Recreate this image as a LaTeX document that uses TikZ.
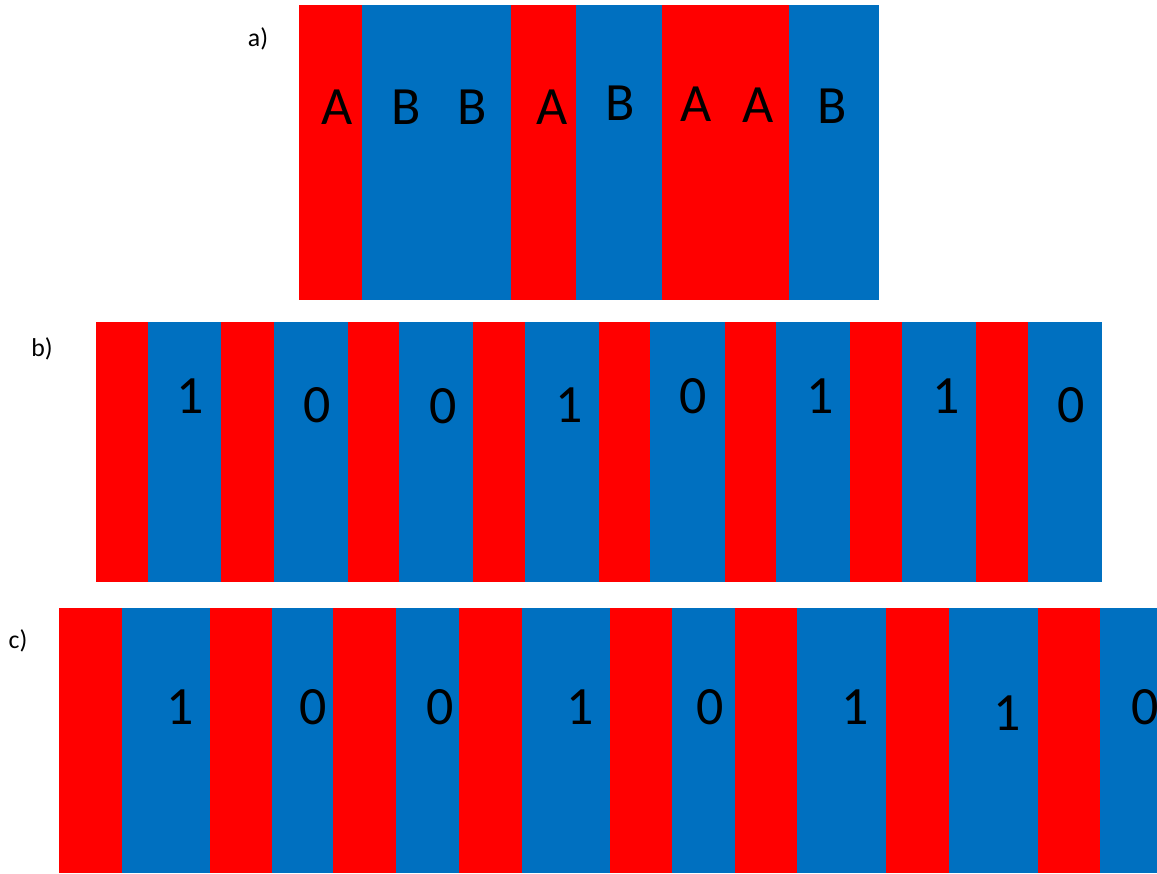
\documentclass[tikz,border=0pt]{standalone}
\usepackage{fontspec}
\setmainfont{Carlito}
\definecolor{stripered}{RGB}{255,0,0}
\definecolor{stripeblue}{RGB}{0,112,192}
\newcommand{\stripe}[5]{%
  \fill[fill=#5] (#1,#3) rectangle (#2,#4);
}

\begin{document}
\begin{tikzpicture}[x=0.03cm, y=-0.03cm,
    bit/.style={font=\fontsize{46}{50}\selectfont, inner sep=0pt},
    tag/.style={font=\fontsize{22}{26}\selectfont, inner sep=0pt}]
    \useasboundingbox (0,0) rectangle (1157,873);
    % Row a stripes
    \foreach \xa/\xb/\col in {299/362/stripered, 362/511/stripeblue,
      511/576/stripered, 576/662/stripeblue, 662/789/stripered,
      789/879/stripeblue} {
      \stripe{\xa}{\xb}{5}{300}{\col}
    }
    % Row b stripes
    \foreach \xa/\xb/\col in {96/148/stripered, 148/221/stripeblue,
      221/274/stripered, 274/348/stripeblue, 348/399/stripered,
      399/473/stripeblue, 473/525/stripered, 525/599/stripeblue,
      599/650/stripered, 650/725/stripeblue, 725/776/stripered,
      776/850/stripeblue, 850/902/stripered, 902/976/stripeblue,
      976/1028/stripered, 1028/1102/stripeblue} {
      \stripe{\xa}{\xb}{322}{582}{\col}
    }
    % Row c stripes
    \foreach \xa/\xb/\col in {59/122/stripered, 122/210/stripeblue,
      210/272/stripered, 272/333/stripeblue, 333/396/stripered,
      396/459/stripeblue, 459/522/stripered, 522/610/stripeblue,
      610/672/stripered, 672/735/stripeblue, 735/797/stripered,
      797/886/stripeblue, 886/949/stripered, 949/1038/stripeblue,
      1038/1100/stripered, 1100/1157/stripeblue} {
      \stripe{\xa}{\xb}{608}{873}{\col}
    }
    % Labels
    \foreach \x/\y/\t [count=\i] in {337/107/A, 406/107/B, 472/107/B,
      552/107/A, 620/103/B, 696/104/A, 758/105/A, 832/106/B} {
      \node[bit] (a\i) at (\x,\y) {\t};
    }
    \foreach \x/\y/\t [count=\i] in {190/396/1, 317/405/0, 443/406/0,
      569/405/1, 693/396/0, 820/396/1, 946/396/1, 1071/405/0} {
      \node[bit] (b\i) at (\x,\y) {\t};
    }
    \foreach \x/\y/\t [count=\i] in {180/707/1, 313/707/0, 440/707/0,
      580/707/1, 710/707/0, 855/707/1, 1007/713/1, 1145/707/0} {
      \node[bit] (c\i) at (\x,\y) {\t};
    }
    \node[tag] (taga) at (258,39) {a)};
    \node[tag] (tagb) at (42,349) {b)};
    \node[tag] (tagc) at (18,641) {c)};
\end{tikzpicture}
\end{document}
